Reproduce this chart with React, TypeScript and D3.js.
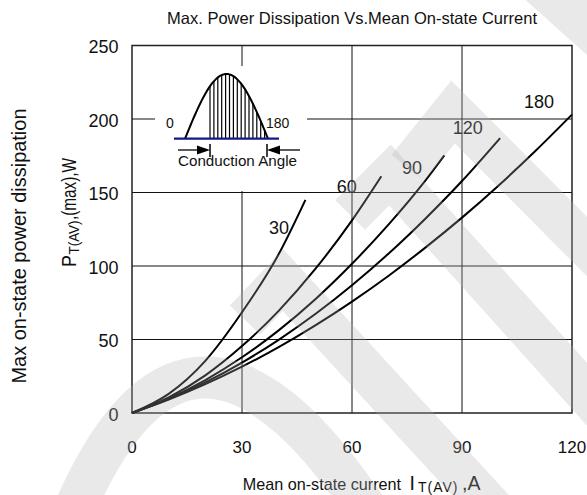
import React from "react";
import * as d3 from "d3";

// ---- data ----
const angleLabels = ["30", "60", "90", "120", "180"];
const currents30 = [0, 10, 20, 30, 40, 47.3];
const power30 = [0, 13, 35.5, 68.5, 108, 145];
const currents60 = [0, 10, 20, 30, 40, 50, 60, 68];
const power60 = [0, 10.6, 25.6, 45.5, 69.5, 98, 131, 161];
const currents90 = [0, 10, 20, 30, 40, 50, 60, 70, 80, 85.2];
const power90 = [0, 9.8, 22.4, 37.9, 56.2, 77.4, 101.5, 128.3, 158.1, 175.3];
const currents120 = [0, 10, 20, 30, 40, 50, 60, 70, 80, 90, 100.4];
const power120 = [0, 9.4, 20.8, 34.3, 49.8, 67.3, 86.9, 108.5, 132.2, 157.8, 187];
const currents180 = [0, 10, 20, 30, 40, 50, 60, 70, 80, 90, 100, 110, 120];
const power180 = [0, 9.1, 19.6, 31.5, 44.8, 59.6, 75.8, 93.4, 112.5, 132.9, 154.8, 178.2, 203];
const xTicks = [0, 30, 60, 90, 120];
const yTicks = [0, 50, 100, 150, 200, 250];
// label anchor positions in data units (current, power)
const labelAnchorX = [40.1, 58.6, 76.4, 91.6, 111];
const labelAnchorY = [125.9, 154.4, 167.3, 193.9, 211.6];

const seriesX = [currents30, currents60, currents90, currents120, currents180];
const seriesY = [power30, power60, power90, power120, power180];

const W = 587;
const H = 495;
const FONT = "'Liberation Sans', Arial, sans-serif";

export default function App() {
  const x = d3.scaleLinear().domain([0, 120]).range([132, 572]);
  const y = d3.scaleLinear().domain([0, 250]).range([413, 45.5]);
  const line = d3
    .line<[number, number]>()
    .x((d) => x(d[0]))
    .y((d) => y(d[1]))
    .curve(d3.curveMonotoneX);

  // inset illustration geometry
  const s0 = 185, s1 = 268, base = 138.7, amp = 64.7;
  const sinePts: [number, number][] = d3.range(0, 181, 3).map((a) => [
    s0 + ((s1 - s0) * a) / 180,
    base - amp * Math.sin((a * Math.PI) / 180),
  ]);
  const sinePath = d3.line()(sinePts) || "";
  const hatchX = d3.range(210, s1, 3.9);
  const sineY = (px: number) => base - amp * Math.sin(((px - s0) / (s1 - s0)) * Math.PI);

  const wmColor = "rgb(175,175,175)";
  const wmOpacity = 0.28;

  return (
    <svg
      width={W}
      height={H}
      style={{ position: "absolute", left: 0, top: 0, background: "#fff" }}
      fontFamily={FONT}
    >
      <rect x={0} y={0} width={W} height={H} fill="#fff" />
      {/* title */}
      <text x={167} y={23.5} fontSize={16.5} textLength={370} lengthAdjust="spacingAndGlyphs" fill="#111">
        Max. Power Dissipation Vs.Mean On-state Current
      </text>

      {/* grid */}
      {xTicks.slice(1, -1).map((t) => (
        <line key={"gx" + t} x1={x(t)} x2={x(t)} y1={y(0)} y2={y(250)} stroke="#111" strokeWidth={1} />
      ))}
      {yTicks.slice(1, -1).map((t) => (
        <line key={"gy" + t} x1={x(0)} x2={x(120)} y1={y(t)} y2={y(t)} stroke="#111" strokeWidth={1} />
      ))}
      <rect x={x(0)} y={y(250)} width={x(120) - x(0)} height={y(0) - y(250)} fill="none" stroke="#222" strokeWidth={1.5} />

      {/* tick labels */}
      {yTicks.map((t) => (
        <text key={"yt" + t} x={118.5} y={y(t) + 7.5} fontSize={18} textAnchor="end" fill="#111">
          {t}
        </text>
      ))}
      {xTicks.map((t) => (
        <text key={"xt" + t} x={x(t)} y={453} fontSize={17} textAnchor="middle" fill="#111">
          {t}
        </text>
      ))}

      {/* inset */}
      <rect x={155} y={66} width={152} height={125} fill="#fff" />
      {hatchX.map((hx, i) => (
        <line key={"h" + i} x1={hx} x2={hx} y1={base} y2={sineY(hx)} stroke="#000" strokeWidth={1.2} />
      ))}
      <path d={sinePath} fill="none" stroke="#000" strokeWidth={2} />
      <line x1={174} x2={279} y1={base} y2={base} stroke="#16168a" strokeWidth={2.2} />
      <text x={170} y={128} fontSize={14} textAnchor="middle" fill="#111">0</text>
      <text x={266} y={128} fontSize={14} fill="#111">180</text>
      <line x1={178} x2={200} y1={150} y2={150} stroke="#000" strokeWidth={1.3} />
      <path d="M197,145.5 L210,150 L197,154.5 Z" fill="#000" />
      <line x1={210} x2={210} y1={144} y2={157} stroke="#000" strokeWidth={1.5} />
      <line x1={278} x2={300} y1={150} y2={150} stroke="#000" strokeWidth={1.3} />
      <path d="M280,145.5 L267,150 L280,154.5 Z" fill="#000" />
      <line x1={267} x2={267} y1={144} y2={157} stroke="#000" strokeWidth={1.5} />
      <text x={178} y={166} fontSize={14.5} textLength={119} lengthAdjust="spacingAndGlyphs" fill="#111">
        Conduction Angle
      </text>

      {/* curves */}
      {seriesX.map((xs, i) => (
        <path
          key={"c" + i}
          d={line(xs.map((v, j) => [v, seriesY[i][j]] as [number, number])) || ""}
          fill="none"
          stroke="#000"
          strokeWidth={2}
        />
      ))}
      {angleLabels.map((lab, i) => (
        <text
          key={"l" + i}
          x={x(labelAnchorX[i])}
          y={y(labelAnchorY[i]) + 6.5}
          fontSize={18}
          textAnchor="middle"
          fill="#111"
        >
          {lab}
        </text>
      ))}

      {/* axis titles */}
      <text
        transform="translate(26,246) rotate(-90)"
        fontSize={19.5}
        textAnchor="middle"
        textLength={275}
        lengthAdjust="spacingAndGlyphs"
        fill="#111"
      >
        Max on-state power dissipation
      </text>
      <g transform="translate(76,267) rotate(-90)" fill="#111">
        <text x={0} y={0} fontSize={20} textLength={12} lengthAdjust="spacingAndGlyphs">P</text>
        <text x={12.5} y={3} fontSize={14} textLength={34} lengthAdjust="spacingAndGlyphs">T(AV)</text>
        <text x={47} y={0} fontSize={20} textLength={62} lengthAdjust="spacingAndGlyphs">,(max),W</text>
      </g>
      <text x={242.7} y={489.5} fontSize={16.2} fill="#111">
        Mean on-state current
      </text>
      <text x={409.5} y={489.5} fontSize={19.5} fill="#111">
        I
        <tspan x={418} dy={2} fontSize={14} letterSpacing={1}>T(AV)</tspan>
        <tspan x={462} dy={-2}>,A</tspan>
      </text>

      {/* watermark overlay */}
      <g fill="none" stroke={wmColor} strokeOpacity={wmOpacity} strokeWidth={42} strokeLinejoin="miter">
        <polyline points="490,-60 680,110" />
        <polyline points="408,168 453,112 700,360" />
        <polyline points="350,215 390,175 700,520" />
        <polyline points="245,320 283,280 540,560" />
        <path d="M70,520 Q190,230 380,530" />
      </g>
    </svg>
  );
}
